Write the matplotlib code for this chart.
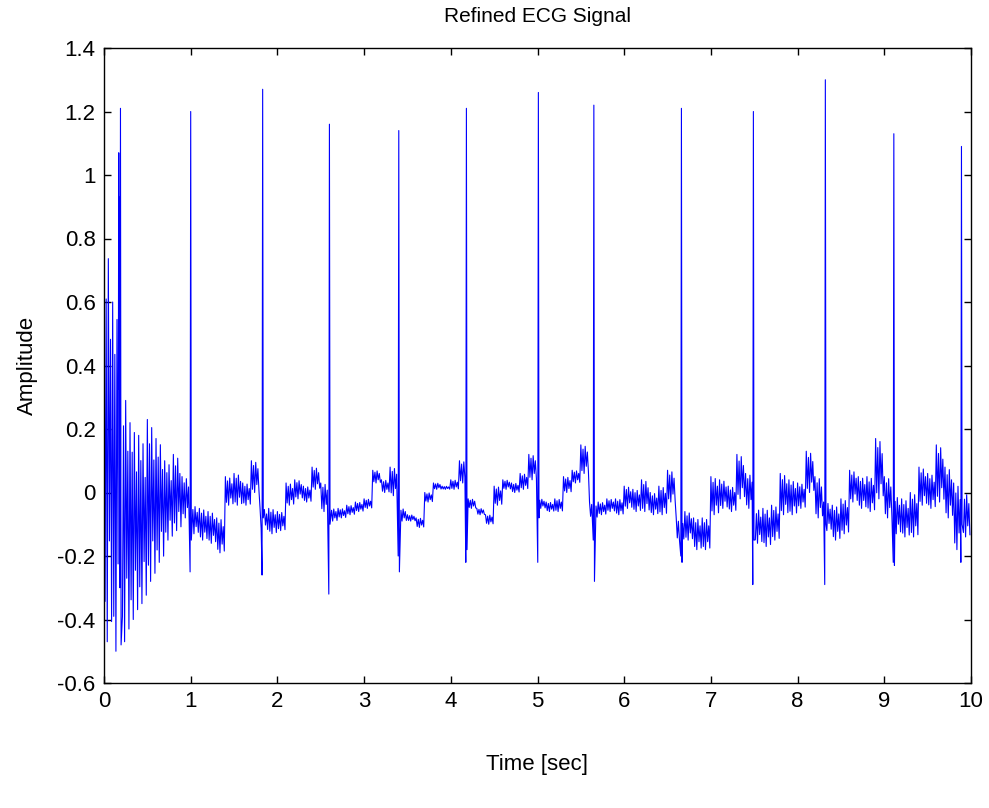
import numpy as np
import matplotlib.pyplot as plt

plt.rcParams['font.family'] = ['Liberation Sans', 'DejaVu Sans']

# baseline band of the filtered ECG, one (upper, lower) pair per 0.1 s
seg_len = 0.1
upper = [
    0.80, 0.60, 0.33, 0.22, 0.18, 0.23, 0.17, 0.10, 0.12, 0.05,
    -0.04, -0.05, -0.06, -0.08, 0.05, 0.06, 0.03, 0.10, -0.05, -0.05,
    -0.06, 0.03, 0.04, 0.02, 0.08, 0.03, -0.05, -0.05, -0.04, -0.03,
    -0.02, 0.07, 0.04, 0.08, -0.05, -0.07, -0.08, 0.00, 0.03, 0.02,
    0.04, 0.10, -0.02, -0.05, -0.07, 0.02, 0.04, 0.03, 0.06, 0.12,
    -0.02, -0.03, -0.02, 0.05, 0.07, 0.15, -0.03, -0.03, -0.02, -0.02,
    0.02, 0.01, 0.04, 0.00, 0.02, 0.07, -0.08, -0.06, -0.08, -0.08,
    0.05, 0.04, 0.02, 0.12, 0.06, -0.05, -0.05, -0.04, 0.06, 0.04,
    0.03, 0.13, 0.05, -0.03, -0.04, -0.02, 0.07, 0.05, 0.05, 0.17,
    0.05, -0.01, -0.02, 0.00, 0.08, 0.06, 0.15, 0.08, 0.03, 0.00,
]
lower = [
    -0.47, -0.50, -0.47, -0.40, -0.35, -0.28, -0.22, -0.15, -0.12, -0.08,
    -0.13, -0.15, -0.16, -0.19, -0.04, -0.04, -0.04, 0.00, -0.12, -0.13,
    -0.12, -0.04, -0.02, -0.03, 0.01, -0.06, -0.09, -0.08, -0.07, -0.06,
    -0.05, 0.03, 0.00, -0.01, -0.09, -0.09, -0.11, -0.03, 0.01, 0.01,
    0.01, 0.03, -0.05, -0.07, -0.10, -0.04, 0.01, 0.00, 0.01, 0.04,
    -0.05, -0.06, -0.06, 0.00, 0.03, 0.06, -0.08, -0.07, -0.06, -0.07,
    -0.05, -0.06, -0.06, -0.07, -0.07, -0.03, -0.15, -0.15, -0.18, -0.18,
    -0.07, -0.05, -0.06, -0.02, -0.05, -0.16, -0.17, -0.15, -0.07, -0.07,
    -0.05, 0.00, -0.08, -0.12, -0.15, -0.13, -0.03, -0.05, -0.06, -0.02,
    -0.08, -0.13, -0.14, -0.14, -0.04, -0.05, -0.03, -0.08, -0.18, -0.14,
]

# QRS complexes: R-peak time, R height, trough before and after
beat_t = [0.19, 1.00, 1.83, 2.60, 3.40, 4.18, 5.01, 5.65, 6.66, 7.49, 8.32, 9.11, 9.89]
beat_r = [1.21, 1.20, 1.27, 1.16, 1.14, 1.21, 1.26, 1.22, 1.21, 1.20, 1.30, 1.13, 1.09]
beat_q = [-0.30, -0.25, -0.26, -0.32, -0.20, -0.22, -0.22, -0.15, -0.20, -0.29, -0.29, -0.22, -0.22]
beat_s = [-0.48, -0.15, -0.08, -0.10, -0.25, -0.18, -0.08, -0.28, -0.22, -0.15, -0.10, -0.23, -0.10]

# notch on the rising edge of the first beat
notch_t = [0.170, 0.178]
notch_v = [1.07, 0.93]

x_ticks = list(range(0, 11))
y_ticks = [-0.6, -0.4, -0.2, 0, 0.2, 0.4, 0.6, 0.8, 1.0, 1.2, 1.4]
y_tick_labels = ['-0.6', '-0.4', '-0.2', '0', '0.2', '0.4', '0.6', '0.8', '1', '1.2', '1.4']

# the band is drawn as a fast zig-zag; each step lands at this fraction
# of the way from the lower to the upper edge
swing = [1.0, 0.1, 0.85, 0.0, 0.95, 0.25, 0.75, 0.05]

t_pts, v_pts = [], []
for i, (hi, lo) in enumerate(zip(upper, lower)):
    for k, f in enumerate(swing):
        t_pts.append(i * seg_len + k * seg_len / len(swing))
        v_pts.append(lo + f * (hi - lo))
t_pts = np.array(t_pts)
v_pts = np.array(v_pts)

keep = np.ones(len(t_pts), dtype=bool)
for tb in beat_t:
    keep &= np.abs(t_pts - tb) > 0.014
t_all = list(t_pts[keep])
v_all = list(v_pts[keep])
for tb, r, q, s in zip(beat_t, beat_r, beat_q, beat_s):
    t_all += [tb - 0.007, tb, tb + 0.007]
    v_all += [q, r, s]
t_all += notch_t
v_all += notch_v
order = np.argsort(t_all)
t_all = np.array(t_all)[order]
v_all = np.array(v_all)[order]

fig = plt.figure(figsize=(9.89, 8.08), dpi=100)
ax = fig.add_axes([104 / 989, 125 / 808, 867 / 989, 635 / 808])
ax.plot(t_all, v_all, color='#0000ff', lw=0.8)

ax.set_xlim(0, 10)
ax.set_ylim(-0.6, 1.4)
ax.set_xticks(x_ticks)
ax.set_yticks(y_ticks)
ax.set_yticklabels(y_tick_labels)
ax.tick_params(direction='in', top=True, right=True, length=5, width=1,
               labelsize=16, pad=6)
for sp in ax.spines.values():
    sp.set_linewidth(1.0)

ax.set_title('Refined ECG Signal', fontsize=15, pad=19)
ax.set_xlabel('Time [sec]', fontsize=16, labelpad=30)
ax.set_ylabel('Amplitude', fontsize=16, labelpad=14)

fig.savefig('out.png', dpi=100)
